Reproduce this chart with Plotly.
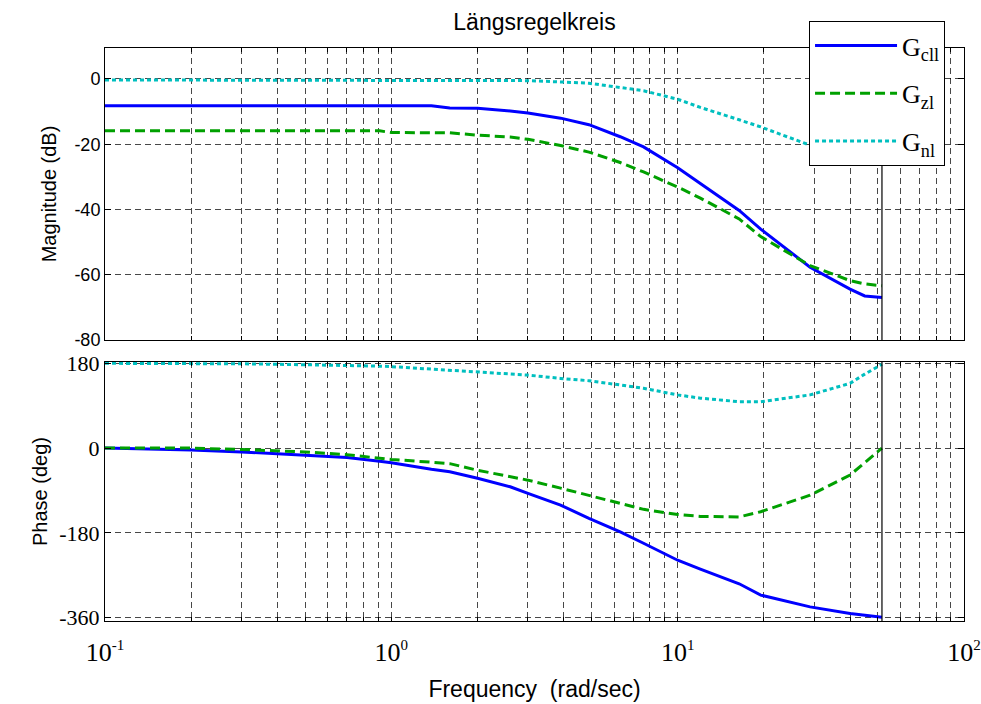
import plotly.graph_objects as go

# ---------------- data ----------------
freq = [0.1, 0.2, 0.3, 0.5, 0.7, 0.91, 1.0, 1.38, 1.6, 2.0, 2.6, 3.0, 3.9, 4.9,
        6.3, 7.6, 10, 12, 16.4, 19.5, 29, 40, 45, 51.7]

mag_cll = [-8.2, -8.2, -8.2, -8.2, -8.2, -8.2, -8.2, -8.2, -8.9, -9.0, -9.8, -10.4,
           -12.0, -14.0, -17.7, -20.8, -27.2, -32.0, -40.3, -46.0, -57.7, -64.4, -66.5, -67.0]
mag_zl = [-15.9, -15.9, -15.9, -15.9, -15.9, -15.9, -16.4, -16.5, -16.5, -17.2, -17.8,
          -18.5, -20.4, -22.4, -25.6, -28.5, -33.1, -36.5, -42.9, -48.3, -57.2, -61.8, -62.8, -63.4]
mag_nl = [-0.3, -0.3, -0.3, -0.3, -0.3, -0.3, -0.3, -0.3, -0.3, -0.3, -0.3, -0.5, -0.9,
          -1.3, -2.6, -3.6, -6.2, -8.7, -12.5, -14.7, -20.3, -23.0, -24.2, -25.3]

ph_cll = [0, -4, -8, -15, -20, -28, -31, -45, -50, -64, -82, -96, -121, -149,
          -178, -202, -238, -257, -288, -312, -337, -351, -355, -359]
ph_zl = [0, 0, -3, -8, -14, -22, -24, -30, -33, -47, -60, -68, -85, -100,
         -118, -130, -141, -145, -146, -135, -100, -57, -31, 0]
ph_nl = [180, 180, 179, 177, 176, 174, 173, 168, 165, 162, 157, 155, 148, 143,
         134, 127, 113, 106, 98.5, 98.5, 113, 137.5, 157, 178]

names = ["G<sub>cll</sub>", "G<sub>zl</sub>", "G<sub>nl</sub>"]
title_text = "Längsregelkreis"
mag_ticks = [0, -20, -40, -60, -80]
phase_ticks = [180, 0, -180, -360]
end_freq = 51.7

# ---------------- styling ----------------
colors = ["#0000FF", "#00A000", "#00BFBF"]
dashes = ["solid", "10px,5px", "4px,3px"]

xt_vals, xt_text = [], []
for e in [-1, 0, 1]:
    for m in range(1, 10):
        xt_vals.append(m * 10 ** e)
        xt_text.append("10<sup><span style='font-size:15px'>%d</span></sup>" % e if m == 1 else "")
xt_vals.append(100)
xt_text.append("10<sup><span style='font-size:15px'>2</span></sup>")

fig = go.Figure()
mags = [mag_cll, mag_zl, mag_nl]
phs = [ph_cll, ph_zl, ph_nl]
for i in range(3):
    fig.add_trace(go.Scatter(x=freq, y=mags[i], mode="lines", name=names[i],
                             line=dict(color=colors[i], width=3, dash=dashes[i]),
                             xaxis="x", yaxis="y", legendgroup=str(i)))
for i in range(3):
    fig.add_trace(go.Scatter(x=freq, y=phs[i], mode="lines", name=names[i],
                             line=dict(color=colors[i], width=3, dash=dashes[i]),
                             xaxis="x2", yaxis="y2", showlegend=False, legendgroup=str(i)))

gridc = "rgba(0,0,0,0.72)"
common_x = dict(type="log", range=[-1, 2], tickvals=xt_vals, ticktext=xt_text,
                showgrid=True, gridcolor=gridc, griddash="6px,4px", gridwidth=1,
                showline=True, linecolor="black", linewidth=1, mirror="allticks",
                ticks="inside", ticklen=4, tickcolor="black", zeroline=False,
                automargin=False)
common_y = dict(showgrid=True, gridcolor=gridc, griddash="6px,4px", gridwidth=1,
                showline=True, linecolor="black", linewidth=1, mirror="allticks",
                ticks="inside", ticklen=6, tickcolor="black", zeroline=False,
                automargin=False)

fig.update_layout(
    width=981, height=704,
    margin=dict(l=105, r=17, t=48, b=83),
    paper_bgcolor="white", plot_bgcolor="white",
    title=dict(text=title_text, x=0.5, xref="paper", xanchor="center",
               y=1 - 22 / 704, yanchor="middle",
               font=dict(family="Liberation Sans, Arial", size=23, color="black")),
    xaxis=dict(common_x, domain=[0, 1], anchor="y", showticklabels=False, matches="x2"),
    xaxis2=dict(common_x, domain=[0, 1], anchor="y2", ticklabelstandoff=8,
                tickfont=dict(family="Liberation Serif, Times New Roman", size=26, color="black"),
                title=dict(text="Frequency\u00a0 (rad/sec)", standoff=14,
                           font=dict(family="Liberation Sans, Arial", size=23, color="black"))),
    yaxis=dict(common_y, domain=[0.4904, 1], range=[-80, 9.5], tickvals=mag_ticks,
               ticktext=[str(v) for v in mag_ticks],
               tickfont=dict(family="Liberation Sans, Arial", size=18, color="black"),
               title=dict(text="Magnitude (dB)", standoff=12,
                          font=dict(family="Liberation Sans, Arial", size=20, color="black"))),
    yaxis2=dict(common_y, domain=[0, 0.452], range=[-367, 182.8], tickvals=phase_ticks,
                ticktext=[str(v) for v in phase_ticks],
                tickfont=dict(family="Liberation Serif, Times New Roman", size=22, color="black"),
                title=dict(text="Phase (deg)", standoff=6,
                           font=dict(family="Liberation Sans, Arial", size=20, color="black"))),
    legend=dict(x=0.8196, y=1.047, xanchor="left", yanchor="top",
                bgcolor="white", bordercolor="black", borderwidth=1,
                font=dict(family="Liberation Serif, Times New Roman", size=26, color="black"),
                tracegroupgap=11, itemwidth=82),
    showlegend=True,
)

# vertical black marker line at the end frequency in both panels
for yr in ["y domain", "y2 domain"]:
    fig.add_shape(type="line", xref="x", yref=yr, x0=end_freq, x1=end_freq, y0=0, y1=1,
                  line=dict(color="black", width=1.2))

fig.write_html("out.html")
